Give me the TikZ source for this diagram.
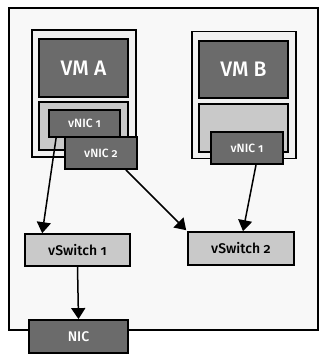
\documentclass[tikz,border=0pt]{standalone}
\usepackage{fontspec}
\setmainfont{Fira Sans Medium}[Numbers=OldStyle]
\usetikzlibrary{arrows.meta,calc}
\definecolor{hostFill}{HTML}{F8F8F8}
\definecolor{vmFill}{HTML}{F0F0F0}
\definecolor{darkBox}{HTML}{6B6B6B}
\definecolor{lightBox}{HTML}{C9C9C9}
\tikzset{
  % Host and VM frames.
  net/frame/.style={
    draw=black, fill=hostFill, line width=1.3pt, inner sep=0pt
  },
  net/vm/.style={
    draw=black, fill=vmFill, line width=1.5pt, inner sep=0pt
  },
  % Dark boxes with white text: VM title, vNIC, physical NIC.
  net/dark/.style={
    draw=black, fill=darkBox, line width=1.8pt, inner sep=0pt,
    text=white, font=\fontsize{12}{14}\selectfont
  },
  % Light boxes: VM lower part, switches.
  net/light/.style={
    draw=black, fill=lightBox, line width=1.6pt, inner sep=0pt,
    text=black, font=\fontsize{14}{16}\selectfont
  },
  net/arrow/.style={
    -{Triangle[length=11pt,width=14pt]}, line width=1.5pt, draw=black
  },
}
\begin{document}
\begin{tikzpicture}[x=1pt,y=-1pt]
  \useasboundingbox (0,0) rectangle (329,361);

  % host
  \node[net/frame, minimum width=309pt, minimum height=322pt] (host) at (163.5,169) {};

  % VM A
  \node[net/vm, minimum width=104pt, minimum height=127pt] (vmA) at (84,93.5) {};
  \node[net/dark, minimum width=89pt, minimum height=58pt,
        font=\fontsize{21}{24}\selectfont] (vmAtitle) at (83.5,68) {VM A};
  \node[net/light, minimum width=89pt, minimum height=48pt] (vmAlow) at (83.5,126) {};
  \node[net/dark, minimum width=71pt, minimum height=27pt] (vnicA1) at (84.5,123.5) {vNIC 1};
  \node[net/dark, minimum width=72pt, minimum height=32pt] (vnicA2) at (101,153) {vNIC 2};

  % VM B
  \node[net/vm, minimum width=104pt, minimum height=127pt] (vmB) at (244,95) {};
  \node[net/dark, minimum width=89pt, minimum height=57pt,
        font=\fontsize{21}{24}\selectfont] (vmBtitle) at (243.5,69.5) {VM B};
  \node[net/light, minimum width=89pt, minimum height=48pt] (vmBlow) at (243.5,128) {};
  \node[net/dark, minimum width=72pt, minimum height=32pt] (vnicB1) at (247,148) {vNIC 1};

  % switches and physical NIC
  \node[net/light, minimum width=105pt, minimum height=32pt] (vsw1) at (77.5,250) {vSwitch 1};
  \node[net/light, minimum width=106pt, minimum height=33pt] (vsw2) at (241,248.5) {vSwitch 2};
  \node[net/dark, minimum width=99pt, minimum height=33pt,
        font=\fontsize{14}{16}\selectfont] (nic) at (78.5,336.5) {NIC};

  % links
  \draw[net/arrow] ($(vnicA1.south west)+(8,0)$) -- ($(vsw1.north west)+(18,0)$);
  \draw[net/arrow] ($(vnicA2.south east)+(-12,0)$) -- ($(vsw2.north west)+(-1,-1)$);
  \draw[net/arrow] ($(vnicB1.south)+(9,0)$) -- ($(vsw2.north)+(2,0)$);
  \draw[net/arrow] (vsw1.south) -- (nic.north);
\end{tikzpicture}
\end{document}
